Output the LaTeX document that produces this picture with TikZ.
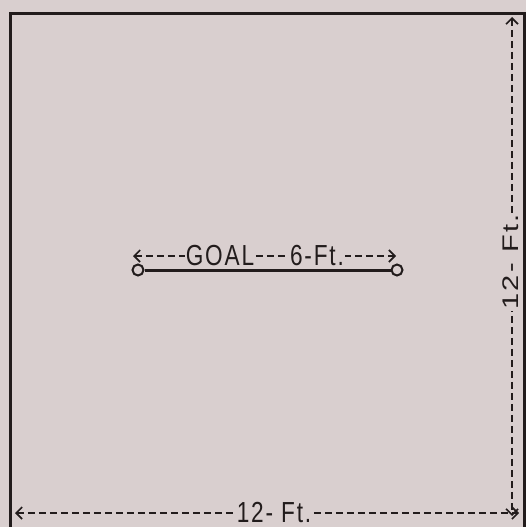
\documentclass[tikz,border=0pt]{standalone}
\usepackage{fontspec}
\setmainfont{Liberation Sans}
\usetikzlibrary{arrows.meta}
\definecolor{paper}{HTML}{D9CFCF}
\definecolor{ink}{HTML}{221C1C}
\tikzset{
  dim/.style={draw=ink, line width=1.8pt, dash pattern=on 7pt off 4pt, {Straight Barb[length=6pt,width=12pt,line width=1.6pt]}-{Straight Barb[length=6pt,width=12pt,line width=1.6pt]}},
  lbl/.style={fill=paper, inner sep=1.5pt, text=ink, font=\fontsize{29}{29}\selectfont\addfontfeature{LetterSpace=8}, xscale=0.78},
  post/.style={circle, draw=ink, line width=2pt, minimum size=11pt, inner sep=0pt},
}
\begin{document}
\begin{tikzpicture}[x=1pt,y=-1pt]
\fill[paper] (0,0) rectangle (526,527);
\useasboundingbox (0,0) rectangle (526,527);
% field border
\draw[ink, line width=3pt] (10,527) -- (10,14) -- (524,14) -- (524,527);
% goal posts
\node[post] (lp) at (138,270) {};
\node[post] (rp) at (397,270) {};
\draw[ink, line width=3pt] (lp) -- (rp);
% goal dimension
\coordinate (ga) at (133,256);
\coordinate (gb) at (396,256);
\draw[dim] (ga) -- (gb);
\node[lbl] (goal) at (220,256) {GOAL};
\node[lbl] (six) at (317,256) {6-Ft.};
% bottom dimension
\coordinate (ba) at (15,513);
\coordinate (bb) at (519,513);
\draw[dim] (ba) -- (bb);
\node[lbl] (bt) at (274,512) {12- Ft.};
% right dimension
\coordinate (ra) at (512,17);
\coordinate (rb) at (512,516);
\draw[dim] (ra) -- (rb);
\node[lbl, rotate=90] (rt) at (511,262) {12- Ft.};
\end{tikzpicture}
\end{document}
